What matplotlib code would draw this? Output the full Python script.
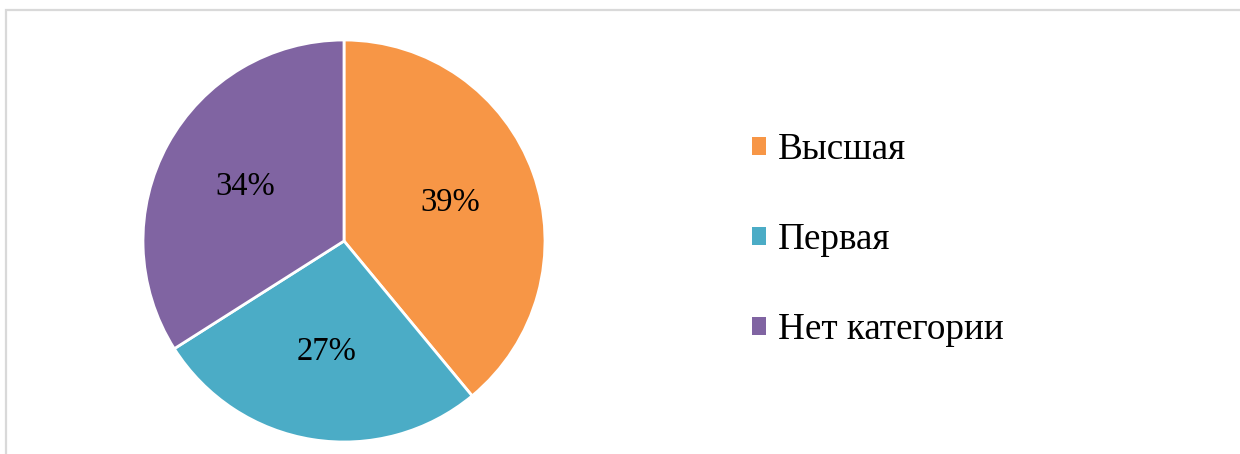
import matplotlib
matplotlib.use("Agg")
import matplotlib.pyplot as plt
from matplotlib.patches import Rectangle, Patch

# data
categories = ["Высшая", "Первая", "Нет категории"]
shares = [39, 27, 34]
colors = ["#F79646", "#4BACC6", "#8064A2"]

plt.rcParams['font.family'] = ['Liberation Serif', 'DejaVu Serif']

fig = plt.figure(figsize=(12.4, 4.54), dpi=100)

# light frame (top and left edges visible, runs off right/bottom)
fig.patches.append(Rectangle((6/1240, -0.05), 1.1, 0.05 + 1 - 10/454,
                             transform=fig.transFigure, fill=False,
                             edgecolor="#d9d9d9", linewidth=1.6))

ax = fig.add_axes([143/1240, 12/454, 402/1240, 402/454])
wedges, texts, autotexts = ax.pie(shares, colors=colors, startangle=90, counterclock=False,
                                  autopct='%1.0f%%', pctdistance=0.56,
                                  wedgeprops=dict(edgecolor="white", linewidth=2),
                                  textprops=dict(fontsize=23.5, color="black"))
ax.set_xlim(-1, 1)
ax.set_ylim(-1, 1)
ax.set_aspect("equal")

handles = [Patch(facecolor=c, edgecolor="none") for c in colors]
fig.legend(handles, categories, loc="center left", bbox_to_anchor=(719/1240, 1 - 240/454),
           frameon=False, fontsize=26.7, handlelength=0.38, handleheight=0.38,
           handletextpad=0.32, labelspacing=1.5)

fig.savefig("out.png", dpi=100)
